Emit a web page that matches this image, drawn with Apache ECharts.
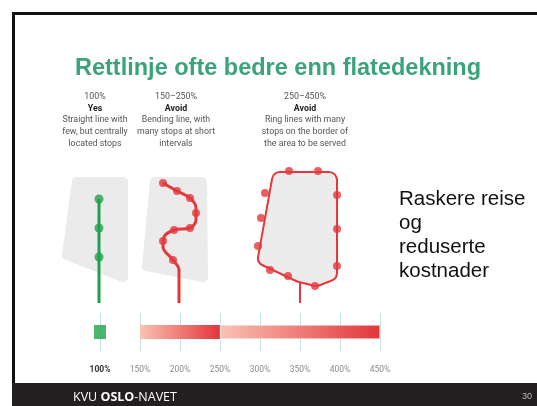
<!DOCTYPE html>
<html><head><meta charset="utf-8">
<script src="https://cdn.jsdelivr.net/npm/echarts@6/dist/echarts.min.js"></script>
<style>html,body{margin:0;padding:0;background:#fff}#c{width:537px;height:406px}</style>
</head><body><div id="c"></div>
<script>
// ---- data ----
const scaleTicks = [100, 150, 200, 250, 300, 350, 400, 450];
const rangeCategory = ['range'];
const straightValue = 100;             // green: 100%
const bendingRange = [150, 250];       // 150–250%
const ringRange = [250, 450];          // 250–450%

// illustration geometry (plotted in a hidden pixel-like value grid)
const panelShapes = [
  [[77,182],[123,182],[123,277],[67,255]],
  [[155,182],[202,182],[203,277],[147,266]]
];
const straightRoute = [[99,199],[99,303]];
const straightStops = [[99,199],[99,228],[99,257]];
const bendingRoute = [[163,183],[177,191],[190,198],[196,208],[196,220],[190,228],[174,230],[164,237],[163,247],[173,260],[179,270],[179,303]];
const bendingStops = [[163,183],[177,191],[190,198],[196,213],[190,228],[174,230],[163,241],[173,260]];
const ringShape = [[280,180],[329,180],[329,273],[316,278],[300,274],[266,258]];
const ringStem = [[300,282],[300,303]];
const ringStops = [[289,171],[318,171],[265,193],[337,195],[261,218],[337,229],[258,246],[337,266],[270,270],[288,276],[315,286]];

const headings = [
  {x: 95, top: '100%', verdict: 'Yes', lines: ['Straight line with', 'few, but centrally', 'located stops']},
  {x: 176, top: '150–250%', verdict: 'Avoid', lines: ['Bending line, with', 'many stops at short', 'intervals']},
  {x: 305, top: '250–450%', verdict: 'Avoid', lines: ['Ring lines with many', 'stops on the border of', 'the area to be served']}
];
const sideText = ['Raskere reise', 'og', 'reduserte', 'kostnader'];
const titleText = 'Rettlinje ofte bedre enn flatedekning';

// ---- chart ----
const RED = '#e4383d', GREEN = '#1fa34a', NARROW = "'Roboto', sans-serif";
const grad = () => new echarts.graphic.LinearGradient(0, 0, 1, 0, [{offset: 0, color: '#f9c3b3'}, {offset: 1, color: '#e3353a'}]);
const chart = echarts.init(document.getElementById('c'), null, {renderer: 'canvas'});

const graphics = [
  {type: 'rect', shape: {x: 12, y: 12, width: 525, height: 3}, style: {fill: '#111'}, z: 1},
  {type: 'rect', shape: {x: 12, y: 12, width: 3, height: 394}, style: {fill: '#111'}, z: 1},
  {type: 'rect', shape: {x: 12, y: 383, width: 525, height: 23}, style: {fill: '#231f20'}, z: 1},
  {type: 'text', x: 73, y: 397, style: {text: '{n|KVU }{b|OSLO}{n|-NAVET}', verticalAlign: 'middle', rich: {
    n: {fill: '#fff', fontSize: 12.5, fontFamily: "'Open Sans', sans-serif"},
    b: {fill: '#fff', fontSize: 12.5, fontWeight: 'bold', fontFamily: "'Open Sans', sans-serif"}}}, z: 2},
  {type: 'text', x: 532, y: 397, style: {text: '30', fill: '#bbb', fontSize: 9, align: 'right', verticalAlign: 'middle', fontFamily: 'Arial, sans-serif'}, z: 2}
];
sideText.forEach((t, i) => graphics.push({type: 'text', x: 399, y: 199 + i * 24,
  style: {text: t, fill: '#111', fontSize: 20.5, fontFamily: "'Liberation Sans', Arial, sans-serif", verticalAlign: 'middle'}}));
headings.forEach(h => {
  const txt = [h.top, '{b|' + h.verdict + '}'].concat(h.lines).join('\n');
  graphics.push({type: 'text', x: h.x, y: 91, style: {text: txt, align: 'center', fill: '#555', fontSize: 8.8, lineHeight: 11.7,
    fontFamily: NARROW, rich: {b: {fontWeight: 'bold', fill: '#222', fontSize: 8.8, lineHeight: 11.7, fontFamily: NARROW}}}});
});

chart.setOption({
  animation: false,
  backgroundColor: '#fff',
  title: {text: titleText, left: 70, top: 52, textStyle: {color: '#3aa37a', fontSize: 23.5, fontWeight: 'bold', fontFamily: "'Liberation Sans', Arial, sans-serif"}},
  graphic: graphics,
  grid: [
    {left: 0, top: 0, width: 537, height: 406, show: false},
    {left: 100, top: 313, width: 280, height: 38, show: false}
  ],
  xAxis: [
    {gridIndex: 0, type: 'value', min: 0, max: 537, show: false},
    {gridIndex: 1, type: 'value', min: 100, max: 450, interval: 50,
      axisLine: {show: false}, axisTick: {show: false},
      splitLine: {show: true, lineStyle: {color: '#bfe1e7', width: 1}},
      axisLabel: {margin: 14, formatter: v => v === 100 ? '{b|' + v + '%}' : '{n|' + v + '%}',
        rich: {b: {fontWeight: 'bold', color: '#333', fontSize: 8.5, fontFamily: NARROW},
               n: {color: '#8a8a8a', fontSize: 8.5, fontFamily: NARROW}}}}
  ],
  yAxis: [
    {gridIndex: 0, type: 'value', min: 0, max: 406, inverse: true, show: false},
    {gridIndex: 1, type: 'category', data: rangeCategory, show: false}
  ],
  series: [
    {type: 'custom', xAxisIndex: 0, yAxisIndex: 0, z: 1, silent: true,
      data: panelShapes.map((p, i) => [i]),
      renderItem: (params, api) => ({type: 'polygon', shape: {points: panelShapes[params.dataIndex].map(p => api.coord(p))},
        style: {fill: '#ebebeb', stroke: '#ebebeb', lineWidth: 10, lineJoin: 'round'}})},
    {type: 'custom', xAxisIndex: 0, yAxisIndex: 0, z: 2, silent: true, data: [[0]],
      renderItem: (params, api) => {
        const pts = ringShape.map(p => api.coord(p));
        return {type: 'group', children: [
          {type: 'polygon', shape: {points: pts}, style: {fill: RED, stroke: RED, lineWidth: 18, lineJoin: 'round'}},
          {type: 'polygon', shape: {points: pts}, style: {fill: '#ececec', stroke: '#ececec', lineWidth: 14, lineJoin: 'round'}}
        ]};
      }},
    {type: 'line', xAxisIndex: 0, yAxisIndex: 0, z: 3, data: ringStem, showSymbol: false, lineStyle: {color: RED, width: 2}},
    {type: 'line', xAxisIndex: 0, yAxisIndex: 0, z: 3, data: straightRoute, showSymbol: false, lineStyle: {color: GREEN, width: 3}},
    {type: 'line', xAxisIndex: 0, yAxisIndex: 0, z: 3, data: bendingRoute, showSymbol: false, smooth: 0.35, lineStyle: {color: RED, width: 3}},
    {type: 'scatter', xAxisIndex: 0, yAxisIndex: 0, z: 4, data: straightStops, symbolSize: 9, itemStyle: {color: GREEN}},
    {type: 'scatter', xAxisIndex: 0, yAxisIndex: 0, z: 4, data: bendingStops, symbolSize: 8, itemStyle: {color: RED}},
    {type: 'scatter', xAxisIndex: 0, yAxisIndex: 0, z: 4, data: ringStops, symbolSize: 8, itemStyle: {color: RED}},
    {type: 'bar', xAxisIndex: 1, yAxisIndex: 1, stack: 'r', barWidth: 14, silent: true,
      data: [bendingRange[0]], itemStyle: {color: 'transparent'}},
    {type: 'bar', xAxisIndex: 1, yAxisIndex: 1, stack: 'r', barWidth: 14,
      data: [bendingRange[1] - bendingRange[0]], itemStyle: {color: grad()}},
    {type: 'bar', xAxisIndex: 1, yAxisIndex: 1, stack: 'r', barWidth: 14,
      data: [ringRange[1] - ringRange[0]], itemStyle: {color: grad(), borderColor: '#fff', borderWidth: 0.5}},
    {type: 'scatter', xAxisIndex: 1, yAxisIndex: 1, z: 4, data: [[straightValue, rangeCategory[0]]], symbol: 'rect', symbolSize: [12, 14], itemStyle: {color: GREEN}}
  ]
});
</script></body></html>
